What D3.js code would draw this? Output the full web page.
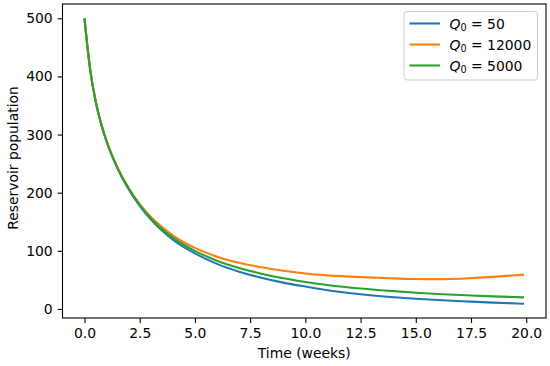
<!DOCTYPE html>
<html>
<head>
<meta charset="utf-8">
<script src="https://cdn.jsdelivr.net/npm/d3@7"></script>
<style>
  body { margin: 0; background: #fff; }
  svg { display: block; font-family: "DejaVu Sans", sans-serif; }
</style>
</head>
<body>
<div id="chart"></div>
<script>
// values
const times  = [0, 0.25, 0.5, 0.75, 1, 1.5, 2, 2.5, 3, 4, 5, 6, 7, 8, 9, 10, 11, 12.5, 14, 15, 16, 17.5, 18.5, 19.9];
const q50    = [500, 414, 358, 319, 288, 241.5, 206, 177.5, 154, 119.2, 95.5, 77.5, 64, 53.7, 45.3, 38.5, 32.3, 25.2, 20.1, 17.5, 15.3, 12.6, 10.9, 9];
const q12000 = [500, 414, 358, 319.5, 289, 243, 208, 180.5, 158.5, 126.7, 105, 90, 79.5, 71.8, 65.8, 61, 57.8, 54.7, 52.6, 51.5, 51.3, 53.1, 55.2, 59];
const q5000  = [500, 414, 358, 319, 288.5, 242, 207, 179, 156, 122.7, 100, 83, 70.5, 60.7, 52.8, 46.5, 41.3, 35.2, 30.6, 28, 25.8, 23.1, 21.7, 20];

const seriesNames  = ["50", "12000", "5000"];
const seriesValues = [q50, q12000, q5000];
const colors = ["#1f77b4", "#ff7f0e", "#2ca02c"];

const xTicks = [0, 2.5, 5, 7.5, 10, 12.5, 15, 17.5, 20];
const yTicks = [0, 100, 200, 300, 400, 500];

const W = 550, H = 366;
const m = { top: 4, right: 4, bottom: 48, left: 62.5 };
const iw = W - m.left - m.right;
const ih = H - m.top - m.bottom;

const svg = d3.select("#chart").append("svg").attr("width", W).attr("height", H);
const g = svg.append("g").attr("transform", `translate(${m.left},${m.top})`);

// matplotlib-style 5% margins
const xMax = times[times.length - 1];
const yMin = d3.min(seriesValues, s => d3.min(s)), yMax = 500;
const xPad = xMax * 0.05, yPad = (yMax - yMin) * 0.05;

const x = d3.scaleLinear().domain([-xPad, xMax + xPad]).range([0, iw]);
const y = d3.scaleLinear().domain([yMin - yPad, yMax + yPad]).range([ih, 0]);

const line = d3.line()
    .x(d => x(d[0]))
    .y(d => y(d[1]))
    .curve(d3.curveMonotoneX);

seriesValues.forEach((vals, i) => {
    g.append("path")
        .datum(times.map((t, j) => [t, vals[j]]))
        .attr("fill", "none")
        .attr("stroke", colors[i])
        .attr("stroke-width", 2.1)
        .attr("d", line);
});

// axes
const xAxis = g.append("g").attr("transform", `translate(0,${ih})`)
    .call(d3.axisBottom(x).tickValues(xTicks).tickFormat(d3.format(".1f")).tickSize(4.9).tickPadding(4.9));
const yAxis = g.append("g")
    .call(d3.axisLeft(y).tickValues(yTicks).tickSize(4.9).tickPadding(4.9));
[xAxis, yAxis].forEach(a => {
    a.select(".domain").remove();
    a.selectAll("line").attr("stroke", "#000").attr("stroke-width", 1.1);
    a.selectAll("text").attr("fill", "#000").attr("font-size", "13.9px")
        .attr("font-family", "DejaVu Sans, sans-serif");
});

// frame
g.append("rect").attr("width", iw).attr("height", ih)
    .attr("fill", "none").attr("stroke", "#000").attr("stroke-width", 1.1);

// axis labels
svg.append("text").attr("x", m.left + iw / 2).attr("y", 358)
    .attr("text-anchor", "middle").attr("font-size", "13.9px").text("Time (weeks)");
svg.append("text").attr("transform", `translate(18,${m.top + ih / 2 - 3}) rotate(-90)`)
    .attr("text-anchor", "middle").attr("font-size", "13.9px").text("Reservoir population");

// legend
const leg = svg.append("g").attr("transform", "translate(404,11.5)");
leg.append("rect").attr("width", 133.5).attr("height", 68.5).attr("rx", 3)
    .attr("fill", "#fff").attr("fill-opacity", 0.8)
    .attr("stroke", "#cccccc").attr("stroke-width", 1);
seriesNames.forEach((name, i) => {
    const ry = 12 + i * 21;
    leg.append("line").attr("x1", 5.5).attr("x2", 36).attr("y1", ry).attr("y2", ry)
        .attr("stroke", colors[i]).attr("stroke-width", 2.1);
    const t = leg.append("text").attr("x", 45.5).attr("y", ry + 5).attr("font-size", "13.9px");
    t.append("tspan").attr("font-style", "italic").text("Q");
    t.append("tspan").attr("font-size", "9.7px").attr("dy", 2.5).text("0");
    t.append("tspan").attr("dy", -2.5).text(" = " + name);
});
</script>
</body>
</html>
